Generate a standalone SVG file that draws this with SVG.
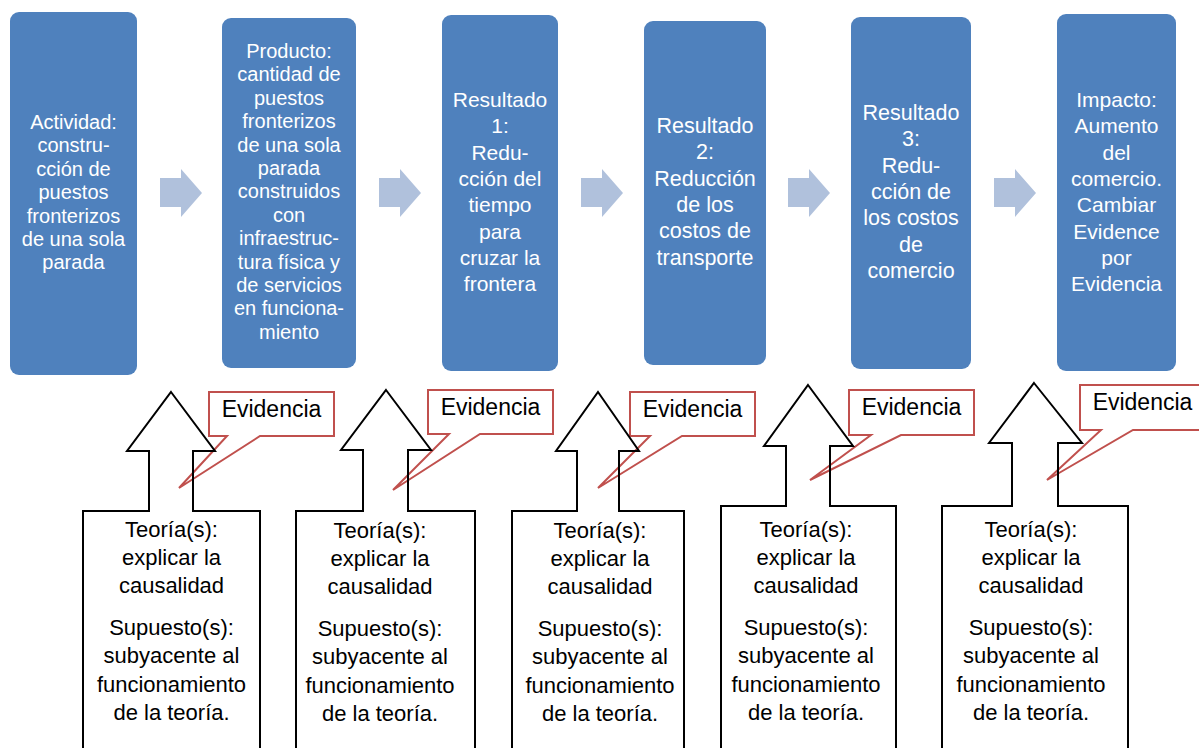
<svg xmlns="http://www.w3.org/2000/svg" width="1199" height="748" viewBox="0 0 1199 748">
<style>
.box{fill:#4F81BD}
.bt{font-family:"Liberation Sans",Arial,sans-serif;fill:#FFFFFF;text-anchor:middle}
.flow{fill:#B0C1DC}
.up{fill:none;stroke:#000000;stroke-width:2;stroke-linejoin:miter}
.call{fill:#FFFFFF;stroke:#C0504D;stroke-width:2}
.ct{font-family:"Liberation Sans",Arial,sans-serif;font-size:23px;fill:#000000;text-anchor:middle}
.tt{font-family:"Liberation Sans",Arial,sans-serif;font-size:22px;fill:#000000;text-anchor:middle}
</style>
<defs>
<path id="chev" d="M0,9 H21 V0 L42,24 L21,48 V38 H0 Z"/>
</defs>
<rect width="1199" height="748" fill="#FFFFFF"/>

<g id="connectors">
<use href="#chev" class="flow" x="160" y="169"/>
<use href="#chev" class="flow" x="379" y="169"/>
<use href="#chev" class="flow" x="581" y="169"/>
<use href="#chev" class="flow" x="788" y="169"/>
<use href="#chev" class="flow" x="994" y="169"/>
</g>

<g id="actividad">
<rect class="box" x="10" y="12" width="127" height="363" rx="9"/>
<text class="bt" font-size="20"><tspan x="73.5" y="129">Actividad:</tspan><tspan x="73.5" y="152.4">constru-</tspan><tspan x="73.5" y="175.8">cción de</tspan><tspan x="73.5" y="199.2">puestos</tspan><tspan x="73.5" y="222.6">fronterizos</tspan><tspan x="73.5" y="246">de una sola</tspan><tspan x="73.5" y="269.4">parada</tspan></text>
</g>

<g id="producto">
<rect class="box" x="222" y="18" width="134" height="350" rx="9"/>
<text class="bt" font-size="20"><tspan x="289" y="58">Producto:</tspan><tspan x="289" y="81.4">cantidad de</tspan><tspan x="289" y="104.8">puestos</tspan><tspan x="289" y="128.2">fronterizos</tspan><tspan x="289" y="151.6">de una sola</tspan><tspan x="289" y="175">parada</tspan><tspan x="289" y="198.4">construidos</tspan><tspan x="289" y="221.8">con</tspan><tspan x="289" y="245.2">infraestruc-</tspan><tspan x="289" y="268.6">tura física y</tspan><tspan x="289" y="292">de servicios</tspan><tspan x="289" y="315.4">en funciona-</tspan><tspan x="289" y="338.8">miento</tspan></text>
</g>

<g id="resultado1">
<rect class="box" x="442" y="15" width="116" height="356" rx="9"/>
<text class="bt" font-size="21"><tspan x="500" y="107">Resultado</tspan><tspan x="500" y="133.3">1:</tspan><tspan x="500" y="159.6">Redu-</tspan><tspan x="500" y="185.9">cción del</tspan><tspan x="500" y="212.2">tiempo</tspan><tspan x="500" y="238.5">para</tspan><tspan x="500" y="264.8">cruzar la</tspan><tspan x="500" y="291.1">frontera</tspan></text>
</g>

<g id="resultado2">
<rect class="box" x="644" y="21" width="122" height="344" rx="9"/>
<text class="bt" font-size="21.5"><tspan x="705" y="133">Resultado</tspan><tspan x="705" y="159.3">2:</tspan><tspan x="705" y="185.6">Reducción</tspan><tspan x="705" y="211.9">de los</tspan><tspan x="705" y="238.2">costos de</tspan><tspan x="705" y="264.5">transporte</tspan></text>
</g>

<g id="resultado3">
<rect class="box" x="851" y="17" width="120" height="352" rx="9"/>
<text class="bt" font-size="21.5"><tspan x="911" y="120">Resultado</tspan><tspan x="911" y="146.3">3:</tspan><tspan x="911" y="172.6">Redu-</tspan><tspan x="911" y="198.9">cción de</tspan><tspan x="911" y="225.2">los costos</tspan><tspan x="911" y="251.5">de</tspan><tspan x="911" y="277.8">comercio</tspan></text>
</g>

<g id="impacto">
<rect class="box" x="1057" y="14" width="119" height="357" rx="9"/>
<text class="bt" font-size="21"><tspan x="1116.5" y="107">Impacto:</tspan><tspan x="1116.5" y="133.3">Aumento</tspan><tspan x="1116.5" y="159.6">del</tspan><tspan x="1116.5" y="185.9">comercio.</tspan><tspan x="1116.5" y="212.2">Cambiar</tspan><tspan x="1116.5" y="238.5">Evidence</tspan><tspan x="1116.5" y="264.8">por</tspan><tspan x="1116.5" y="291.1">Evidencia</tspan></text>
</g>

<g id="evidencia1">
<path class="call" d="M209,392 H334 V436 H260 L179,488 L227,436 H209 Z"/>
<text class="ct" x="271.5" y="417">Evidencia</text>
</g>
<g id="evidencia2">
<path class="call" d="M428,390 H553 V434 H480 L393,490 L449,434 H428 Z"/>
<text class="ct" x="490.5" y="415">Evidencia</text>
</g>
<g id="evidencia3">
<path class="call" d="M630,392 H755 V436 H682 L598,488 L650,436 H630 Z"/>
<text class="ct" x="692.5" y="417">Evidencia</text>
</g>
<g id="evidencia4">
<path class="call" d="M849,390 H974 V435 H901 L810,480 L871,435 H849 Z"/>
<text class="ct" x="911.5" y="415">Evidencia</text>
</g>
<g id="evidencia5">
<path class="call" d="M1080,385 H1205 V430 H1133 L1047,480 L1101,430 H1080 Z"/>
<text class="ct" x="1142.5" y="410">Evidencia</text>
</g>

<g id="teoria1">
<polygon class="up" points="171,392 215,451 193,451 193,511 260,511 260,760 83,760 83,511 149,511 149,451 127,451"/>
<text class="tt"><tspan x="171.5" y="537">Teoría(s):</tspan><tspan x="171.5" y="565">explicar la</tspan><tspan x="171.5" y="593">causalidad</tspan><tspan x="171.5" y="635">Supuesto(s):</tspan><tspan x="171.5" y="663">subyacente al</tspan><tspan x="171.5" y="692">funcionamiento</tspan><tspan x="171.5" y="720">de la teoría.</tspan></text>
</g>

<g id="teoria2">
<polygon class="up" points="386,390 431,450 408,450 408,511 475,511 475,760 296,760 296,511 363,511 363,450 341,450"/>
<text class="tt"><tspan x="380" y="538">Teoría(s):</tspan><tspan x="380" y="566">explicar la</tspan><tspan x="380" y="594">causalidad</tspan><tspan x="380" y="636">Supuesto(s):</tspan><tspan x="380" y="664">subyacente al</tspan><tspan x="380" y="693">funcionamiento</tspan><tspan x="380" y="721">de la teoría.</tspan></text>
</g>

<g id="teoria3">
<polygon class="up" points="598,392 639,451 619,451 619,511 684,511 684,760 512,760 512,511 577,511 577,451 556,451"/>
<text class="tt"><tspan x="600" y="538">Teoría(s):</tspan><tspan x="600" y="566">explicar la</tspan><tspan x="600" y="594">causalidad</tspan><tspan x="600" y="636">Supuesto(s):</tspan><tspan x="600" y="664">subyacente al</tspan><tspan x="600" y="693">funcionamiento</tspan><tspan x="600" y="721">de la teoría.</tspan></text>
</g>

<g id="teoria4">
<polygon class="up" points="808,385 853,446 830,446 830,506 896,506 896,760 721,760 721,506 786,506 786,446 764,446"/>
<text class="tt"><tspan x="806" y="537">Teoría(s):</tspan><tspan x="806" y="565">explicar la</tspan><tspan x="806" y="593">causalidad</tspan><tspan x="806" y="635">Supuesto(s):</tspan><tspan x="806" y="663">subyacente al</tspan><tspan x="806" y="692">funcionamiento</tspan><tspan x="806" y="720">de la teoría.</tspan></text>
</g>

<g id="teoria5">
<polygon class="up" points="1034,383 1082,443 1058,443 1058,506 1128,506 1128,760 942,760 942,506 1012,506 1012,443 989,443"/>
<text class="tt"><tspan x="1031" y="537">Teoría(s):</tspan><tspan x="1031" y="565">explicar la</tspan><tspan x="1031" y="593">causalidad</tspan><tspan x="1031" y="635">Supuesto(s):</tspan><tspan x="1031" y="663">subyacente al</tspan><tspan x="1031" y="692">funcionamiento</tspan><tspan x="1031" y="720">de la teoría.</tspan></text>
</g>
</svg>
